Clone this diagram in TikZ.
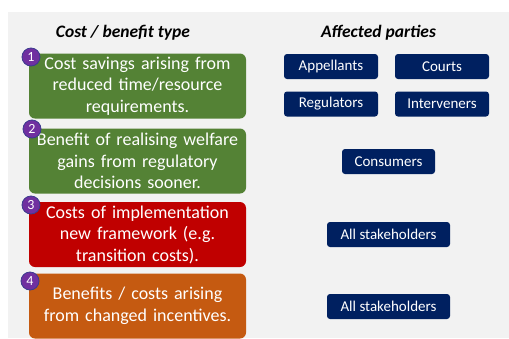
\documentclass[tikz,border=0pt]{standalone}
\usepackage{fontspec}
\setmainfont{Carlito}

\definecolor{panelgray}{HTML}{F2F2F2}
\definecolor{benefitgreen}{HTML}{548235}
\definecolor{costred}{HTML}{C00000}
\definecolor{mixedorange}{HTML}{C55A11}
\definecolor{partynavy}{HTML}{002060}
\definecolor{badgepurple}{HTML}{7030A0}
\definecolor{badgeedge}{HTML}{3B3B8F}

\begin{document}
\begin{tikzpicture}[
    x=1pt, y=-1pt,
    heading/.style={font=\fontsize{17.5}{20}\selectfont\bfseries\itshape},
    costbox/.style={fill=#1, rounded corners=6pt, minimum width=217pt,
        minimum height=65pt, text width=210pt, align=center, inner sep=0pt,
        text=white, font=\fontsize{18}{21.5}\selectfont},
    partybox/.style={fill=partynavy, rounded corners=3pt, minimum width=#1,
        minimum height=25pt, inner sep=0pt, text=white,
        font=\fontsize{15}{17}\selectfont},
    partybox/.default=94pt,
    badge/.style={circle, fill=badgepurple, draw=badgeedge, line width=0.8pt,
        minimum size=18pt, inner sep=0pt, text=white,
        font=\fontsize{14}{14}\selectfont}
]
\useasboundingbox (0,0) rectangle (509,338);
\fill[panelgray] (8,12) rectangle (509,338);

% column headings
\node[heading] (costhead) at (123,33) {Cost / benefit type};
\node[heading] (partyhead) at (378.5,33) {Affected parties};

% cost / benefit boxes
\node[costbox=benefitgreen] (type1) at (137.5,86)
    {Cost savings arising from\\reduced time/resource\\requirements.};
\node[costbox=benefitgreen] (type2) at (137.5,161)
    {Benefit of realising welfare\\gains from regulatory\\decisions sooner.};
\node[costbox=costred] (type3) at (137.5,234.5)
    {Costs of implementation\\new framework (e.g.\\transition costs).};
\node[costbox=mixedorange] (type4) at (137.5,306)
    {Benefits / costs arising\\from changed incentives.};

% numbered badges
\foreach \n/\x/\y in {1/31/57, 2/32/129, 3/31/205, 4/30/281}{
    \node[badge] (badge\n) at (\x,\y) {\n};
}

% affected parties
\node[partybox] (appellants) at (331,66.5) {Appellants};
\node[partybox] (courts) at (442,66.5) {Courts};
\node[partybox] (regulators) at (331,104) {Regulators};
\node[partybox] (interveners) at (442,104) {Interveners};
\node[partybox=93pt] (consumers) at (388.5,161.5) {Consumers};
\node[partybox=123pt] (allparties3) at (388.5,234.5) {All stakeholders};
\node[partybox=123pt] (allparties4) at (388.5,306.5) {All stakeholders};
\end{tikzpicture}
\end{document}
